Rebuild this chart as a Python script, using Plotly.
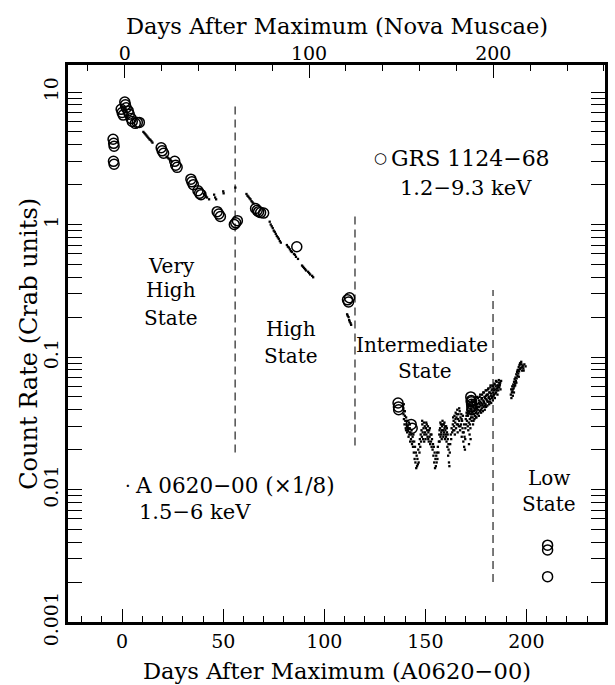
import plotly.graph_objects as go
import math

# ---------------- data ----------------
# GRS 1124-68 (open circles): days after maximum (A0620-00 scale), rate (Crab units)
grs_days = [-4.5, -4.2, -4.0, -4.3, -4.0,
            -0.5, 0.0, 0.5, 1.3, 1.6, 2.0, 3.0, 3.5, 4.5, 5.0, 6.5, 7.5, 8.5,
            19.3, 19.8, 20.5, 26.0, 26.5, 27.2, 34.0, 34.5, 35.2, 37.5, 38.3, 39.0,
            47.0, 47.8, 48.6, 55.5, 56.2, 57.0, 66.0, 66.8, 67.5, 68.5, 70.0,
            86.4, 111.5, 112.0, 112.5,
            136.5, 136.7, 136.8, 143.0, 143.5,
            172.5, 172.7, 172.9, 173.0, 173.1, 172.8,
            210.5, 210.5, 210.5]
grs_rate = [4.4, 4.1, 3.9, 3.0, 2.85,
            7.4, 7.0, 6.7, 8.4, 8.0, 7.6, 7.2, 6.8, 6.3, 6.0, 5.8, 5.9, 5.9,
            3.8, 3.6, 3.45, 3.0, 2.8, 2.7, 2.2, 2.1, 2.0, 1.8, 1.72, 1.68,
            1.25, 1.2, 1.15, 1.0, 1.03, 1.07, 1.32, 1.28, 1.25, 1.23, 1.22,
            0.68, 0.27, 0.26, 0.28,
            0.045, 0.042, 0.040, 0.031, 0.029,
            0.050, 0.047, 0.044, 0.042, 0.040, 0.046,
            0.0038, 0.0035, 0.0022]

# A 0620-00 (x1/8) dots, very high / high state
a06_days_high = [10.5, 11, 11.5, 12, 12.5, 13, 13.5, 14, 14.5, 15,
                 22, 22.5, 23, 23.5, 24, 24.5,
                 40.5, 41, 41.5, 42, 43, 45.5, 46, 46.5, 50, 50.2, 56, 61.5, 62,
                 62.5, 63, 63.5, 64, 64.5, 65,
                 73, 73.5, 74, 74.5, 75, 75.5, 76, 76.5, 77, 77.5, 78, 78.5,
                 81.5, 82, 82.5, 83, 83.5, 84, 85, 85.5, 86, 87,
                 89, 89.5, 90, 90.5, 91, 92, 92.5, 93, 94, 94.5,
                 111.3, 111.6, 112, 112.3, 112.6, 113, 113.3]
a06_rate_high = [5.0, 4.9, 4.8, 4.7, 4.6, 4.5, 4.4, 4.35, 4.25, 4.15,
                 3.25, 3.2, 3.15, 3.1, 3.05, 3.0,
                 1.7, 1.66, 1.63, 1.6, 1.55, 1.68, 1.6, 1.55, 1.78, 1.72, 1.9, 1.7, 1.65,
                 1.62, 1.58, 1.55, 1.5, 1.47, 1.44,
                 1.05, 1.0, 0.97, 0.94, 0.9, 0.88, 0.85, 0.82, 0.8, 0.78, 0.75, 0.73,
                 0.70, 0.68, 0.67, 0.65, 0.63, 0.62, 0.6, 0.59, 0.57, 0.55,
                 0.49, 0.48, 0.47, 0.46, 0.45, 0.44, 0.43, 0.42, 0.41, 0.40,
                 0.21, 0.205, 0.2, 0.19, 0.185, 0.18, 0.175]

# A 0620-00 (x1/8) dots, intermediate state
a06_days_int = [
    139.1, 139.2, 139.4, 139.5, 139.7, 139.9, 140.1, 140.3, 140.5, 140.8, 141.0, 141.2, 141.5, 141.7, 141.9,
    142.1, 142.3, 142.5, 142.6, 142.9, 143.2, 143.4, 143.7, 143.9, 144.1, 144.3, 144.5, 144.7, 144.9, 145.1,
    145.3, 145.5, 145.7, 145.9, 146.1, 146.3, 146.5, 146.7, 146.9, 147.1, 147.3, 147.5, 147.7, 147.9,
    148.1, 148.3, 148.5, 148.7, 148.9, 149.1, 149.3, 149.5, 149.7, 149.9, 150.1, 150.3, 150.5, 150.7, 150.9,
    151.1, 151.3, 151.5, 151.7, 151.9, 152.1, 152.4, 152.6, 152.8, 153.1, 153.3,
    153.6, 153.8, 154.0, 154.2, 154.4, 154.6, 154.8, 155.0, 155.2, 155.4, 155.6, 155.8, 156.0, 156.2, 156.5, 156.7,
    156.9, 157.1, 157.3, 157.5, 157.7, 157.9, 158.1, 158.3, 158.5, 158.7, 158.9, 159.1, 159.3, 159.5, 159.7,
    159.9, 160.1, 160.3, 160.5, 160.7, 160.9, 161.1, 161.3, 161.5, 161.7, 161.9, 162.1, 162.3, 162.6, 162.8,
    163.0, 163.3,
    163.6, 163.8, 164.0, 164.2, 164.4, 164.6, 164.8, 165.0, 165.2, 165.4, 165.6, 165.8, 166.0, 166.2, 166.4,
    166.6, 166.8, 167.0, 167.2, 167.4, 167.6, 167.8, 168.0, 168.2, 168.4, 168.6, 168.8, 169.0, 169.2, 169.4,
    169.6, 169.8, 170.0, 170.2, 170.4,
    170.6, 170.8, 171.0, 171.1, 171.3, 171.5, 171.6, 171.8, 171.9, 172.0, 172.1, 172.3, 172.4, 172.5, 172.7,
    172.9, 173.0, 173.2, 173.4, 173.6, 173.7, 173.9, 174.1, 174.3, 174.4, 174.6, 174.8, 175.0, 175.1, 175.3,
    175.5, 175.7, 175.8, 176.0, 176.2, 176.4, 176.5, 176.7, 176.9, 177.1, 177.2, 177.4, 177.6, 177.8, 178.0,
    178.1, 178.3, 178.5, 178.7, 178.9, 179.0, 179.2, 179.4, 179.6, 179.8, 180.0, 180.1, 180.3, 180.5, 180.7,
    180.9, 181.1, 181.2, 181.4, 181.6, 181.8, 182.0, 182.2, 182.4, 182.6, 182.8, 183.0, 183.2, 183.4, 183.6,
    183.8, 184.0, 184.2, 184.4, 184.6, 184.8, 185.0, 185.3, 185.5, 185.7, 185.9, 186.1, 186.4, 186.6, 186.9,
    187.2, 187.5,
    192.3, 192.5, 192.6, 192.8, 193.0, 193.1, 193.3, 193.5, 193.7, 193.9, 194.0, 194.2, 194.4, 194.6, 194.8,
    195.0, 195.2, 195.4, 195.6, 195.8, 196.0, 196.2, 196.4, 196.6, 196.8, 197.0, 197.3, 197.6, 197.9, 198.2,
    198.5, 199.0, 199.6]
a06_rate_int = [
    0.041, 0.037, 0.034, 0.039, 0.031, 0.036, 0.033, 0.029, 0.035, 0.031, 0.027, 0.030, 0.028, 0.025, 0.032,
    0.026, 0.029, 0.023, 0.027, 0.024, 0.028, 0.022, 0.025, 0.021, 0.026, 0.019, 0.023, 0.017, 0.021, 0.016,
    0.019, 0.0145, 0.018, 0.015, 0.017, 0.0155, 0.020, 0.016, 0.022, 0.019, 0.024, 0.021, 0.026, 0.023,
    0.028, 0.025, 0.031, 0.027, 0.024, 0.029, 0.032, 0.026, 0.030, 0.027, 0.024, 0.029, 0.026, 0.031, 0.028,
    0.025, 0.030, 0.027, 0.023, 0.028, 0.025, 0.022, 0.026, 0.023, 0.021, 0.024,
    0.020, 0.022, 0.018, 0.021, 0.016, 0.019, 0.0145, 0.017, 0.015, 0.018, 0.016, 0.019, 0.017, 0.021, 0.019, 0.023,
    0.026, 0.023, 0.029, 0.025, 0.031, 0.027, 0.024, 0.030, 0.033, 0.028, 0.025, 0.031, 0.027, 0.029, 0.024,
    0.028, 0.026, 0.030, 0.023, 0.027, 0.021, 0.024, 0.018, 0.020, 0.016, 0.015, 0.019, 0.022, 0.026, 0.024,
    0.029, 0.027,
    0.031, 0.028, 0.033, 0.030, 0.036, 0.026, 0.032, 0.038, 0.029, 0.035, 0.031, 0.040, 0.027, 0.034, 0.037,
    0.030, 0.033, 0.039, 0.028, 0.035, 0.031, 0.037, 0.025, 0.033, 0.029, 0.036, 0.023, 0.027, 0.021, 0.025,
    0.020, 0.029, 0.034, 0.031, 0.038,
    0.033, 0.040, 0.030, 0.036, 0.042, 0.032, 0.022, 0.038, 0.026, 0.034, 0.044, 0.029, 0.024, 0.037, 0.041,
    0.033, 0.039, 0.045, 0.035, 0.031, 0.042, 0.037, 0.046, 0.034, 0.040, 0.036, 0.043, 0.038, 0.047, 0.035,
    0.041, 0.044, 0.037, 0.049, 0.040, 0.045, 0.036, 0.042, 0.050, 0.039, 0.046, 0.043, 0.038, 0.048, 0.041,
    0.052, 0.044, 0.039, 0.047, 0.042, 0.054, 0.045, 0.040, 0.049, 0.044, 0.051, 0.042, 0.056, 0.047, 0.043,
    0.052, 0.046, 0.058, 0.049, 0.044, 0.054, 0.048, 0.059, 0.051, 0.045, 0.056, 0.050, 0.061, 0.047, 0.054,
    0.058, 0.052, 0.063, 0.049, 0.057, 0.060, 0.054, 0.065, 0.058, 0.052, 0.061, 0.056, 0.064, 0.059, 0.062,
    0.057, 0.066,
    0.052, 0.057, 0.049, 0.054, 0.060, 0.055, 0.051, 0.062, 0.058, 0.065, 0.060, 0.068, 0.063, 0.070, 0.066,
    0.074, 0.069, 0.077, 0.072, 0.080, 0.075, 0.084, 0.078, 0.087, 0.081, 0.090, 0.083, 0.088, 0.079, 0.086,
    0.082, 0.088, 0.085]

# second batch of intermediate-state dots (interleaved observations)
a06_days_int2 = [
    170.65, 170.95, 171.25, 171.45, 171.75, 172.05, 172.35, 172.65, 172.95, 173.25, 173.55, 173.85,
    174.15, 174.45, 174.75, 175.05, 175.35, 175.65, 175.95, 176.25, 176.55, 176.85, 177.15, 177.45,
    177.75, 178.05, 178.35, 178.65, 178.95, 179.25, 179.55, 179.85, 180.15, 180.45, 180.75, 181.05,
    181.35, 181.65, 181.95, 182.25, 182.55, 182.85, 183.15, 183.45, 183.75, 184.05, 184.35, 184.65,
    184.95, 185.25, 185.65, 186.05, 186.35, 186.75, 187.05,
    157.05, 157.45, 157.85, 158.25, 158.65, 159.05, 159.45, 159.85, 160.25, 160.65, 161.05, 161.45,
    163.75, 164.35, 164.95, 165.55, 166.15, 166.75, 167.35, 167.95, 168.55, 169.15, 169.75, 170.35,
    139.35, 139.85, 140.45, 141.05, 141.65, 142.35, 143.05, 143.65, 148.45, 149.45, 150.45, 151.45,
    152.25, 153.05,
    193.25, 193.85, 194.45, 195.05, 195.65, 196.25, 196.85, 197.45, 198.05, 198.65]
a06_rate_int2 = [
    0.045, 0.037, 0.028, 0.039, 0.043, 0.031, 0.040, 0.035, 0.047, 0.038, 0.043, 0.033,
    0.039, 0.048, 0.041, 0.035, 0.044, 0.050, 0.042, 0.038, 0.047, 0.044, 0.052, 0.040,
    0.045, 0.049, 0.043, 0.054, 0.046, 0.050, 0.043, 0.056, 0.048, 0.052, 0.046, 0.057,
    0.050, 0.054, 0.046, 0.061, 0.053, 0.049, 0.057, 0.060, 0.051, 0.056, 0.062, 0.053,
    0.066, 0.056, 0.061, 0.059, 0.067, 0.061, 0.064,
    0.028, 0.032, 0.026, 0.028, 0.031, 0.026, 0.032, 0.030, 0.025, 0.029, 0.026, 0.022,
    0.035, 0.028, 0.034, 0.037, 0.031, 0.041, 0.030, 0.034, 0.027, 0.031, 0.024, 0.036,
    0.044, 0.039, 0.028, 0.033, 0.029, 0.031, 0.026, 0.023, 0.033, 0.023, 0.032, 0.024,
    0.029, 0.026,
    0.057, 0.054, 0.061, 0.064, 0.079, 0.071, 0.089, 0.092, 0.084, 0.079]

# state boundaries (dashed lines)
boundary_days = [55.9, 115.2, 183.5]
boundary_top = [8.0, 1.24, 0.32]
boundary_bottom = [0.019, 0.0215, 0.002]

# state labels
state_text = ["Very", "High", "State", "High", "State", "Intermediate", "State", "Low", "State"]
state_day = [24.2, 24.2, 24.2, 83.6, 83.6, 148.2, 149.9, 211.2, 211.2]
state_rate = [0.49, 0.318, 0.196, 0.162, 0.101, 0.124, 0.078, 0.0123, 0.0078]

y_major = [0.001, 0.01, 0.1, 1, 10]
y_major_text = ["0.001", "0.01", "0.1", "1", "10"]
x_major = [0, 50, 100, 150, 200]
top_major = [0, 100, 200]
top_range = [-30.8, 260.6]

FONT = "DejaVu Serif"

fig = go.Figure()

for d, lo, hi in zip(boundary_days, boundary_bottom, boundary_top):
    fig.add_trace(go.Scatter(x=[d, d], y=[lo, hi], mode="lines",
                             line=dict(color="#333", width=1.3, dash="8px,5px"),
                             hoverinfo="skip", showlegend=False))

fig.add_trace(go.Scatter(x=a06_days_high + a06_days_int + a06_days_int2,
                         y=a06_rate_high + a06_rate_int + a06_rate_int2,
                         mode="markers",
                         marker=dict(symbol="square", size=2.3, color="black"),
                         showlegend=False))
fig.add_trace(go.Scatter(x=grs_days, y=grs_rate, mode="markers",
                         marker=dict(symbol="circle-open", size=10, color="black",
                                     line=dict(width=1.5, color="black")),
                         showlegend=False))
# empty trace so the top (Nova Muscae) axis is drawn
fig.add_trace(go.Scatter(x=[None], y=[None], xaxis="x2", yaxis="y", mode="markers",
                         hoverinfo="skip", showlegend=False))

annotations = []
for t, d, r in zip(state_text, state_day, state_rate):
    annotations.append(dict(x=d, y=math.log10(r), xref="x", yref="y", text=t,
                            showarrow=False, font=dict(family=FONT, size=20, color="black")))

legend_items = [
    ("GRS 1124−68", 132.0, 0.501, 22),
    ("1.2−9.3 keV", 136.5, 0.274, 21),
    ("A 0620−00 (×1/8)", 5.2, -1.968, 21.5),
    ("1.5−6 keV", 7.4, -2.17, 21),
]
for t, d, ly, fs in legend_items:
    annotations.append(dict(x=d, y=ly, xref="x", yref="y", text=t, xanchor="left",
                            showarrow=False, font=dict(family=FONT, size=fs, color="black")))
# legend key glyphs
annotations.append(dict(x=132.0, y=0.501, xref="x", yref="y", text="○", xanchor="right",
                        showarrow=False, font=dict(family=FONT, size=15, color="black")))
annotations.append(dict(x=5.2, y=-1.968, xref="x", yref="y", text="·", xanchor="right",
                        showarrow=False, font=dict(family=FONT, size=18, color="black")))

# axis titles
annotations.append(dict(x=0.5, y=-0.088, xref="paper", yref="paper", yanchor="middle",
                        text="Days After Maximum (A0620−00)", showarrow=False,
                        font=dict(family=FONT, size=22.6, color="black")))
annotations.append(dict(x=0.5, y=1.07, xref="paper", yref="paper", yanchor="middle",
                        text="Days After Maximum (Nova Muscae)", showarrow=False,
                        font=dict(family=FONT, size=22.6, color="black")))
annotations.append(dict(x=-0.074, y=0.5, xref="paper", yref="paper", xanchor="center",
                        yanchor="middle", textangle=-90,
                        text="Count Rate (Crab units)", showarrow=False,
                        font=dict(family=FONT, size=24, color="black")))

fig.update_layout(
    width=615, height=685,
    margin=dict(l=68, r=10, t=65, b=63, autoexpand=False),
    paper_bgcolor="white", plot_bgcolor="white",
    showlegend=False,
    annotations=annotations,
    font=dict(family=FONT, size=19, color="black"),
    xaxis=dict(range=[-26.8, 238.9], tickvals=x_major, ticks="inside", ticklen=13,
               tickwidth=1.3, tickcolor="black", showline=True, linewidth=2.5,
               linecolor="black", mirror=True, showgrid=False, zeroline=False,
               automargin=False, tickfont=dict(family=FONT, size=19),
               minor=dict(dtick=10, ticks="inside", ticklen=6, tickwidth=1.1,
                          tickcolor="black", showgrid=False)),
    xaxis2=dict(range=top_range, overlaying="x", side="top", anchor="y",
                tickvals=top_major, ticks="inside", ticklen=13, tickwidth=1.3,
                tickcolor="black", showline=False, showgrid=False, zeroline=False,
                automargin=False, tickfont=dict(family=FONT, size=19),
                minor=dict(dtick=20, ticks="inside", ticklen=6, tickwidth=1.1,
                           tickcolor="black", showgrid=False)),
    yaxis=dict(type="log", range=[-3, 1.204], tickvals=y_major, ticktext=y_major_text,
               ticks="inside", ticklen=14, tickwidth=1.3, tickcolor="black",
               showline=True, linewidth=2.5, linecolor="black", mirror="allticks",
               showgrid=False, zeroline=False, tickangle=-90, automargin=False,
               tickfont=dict(family=FONT, size=19),
               minor=dict(tickvals=[k * 10 ** e for e in range(-3, 2) for k in range(2, 10)],
                          ticks="inside", ticklen=7, tickwidth=1.1, tickcolor="black",
                          showgrid=False)),
)

fig.write_html("out.html", config={"displayModeBar": False},
               post_script="document.body.style.margin='0';document.body.style.overflow='hidden';")
